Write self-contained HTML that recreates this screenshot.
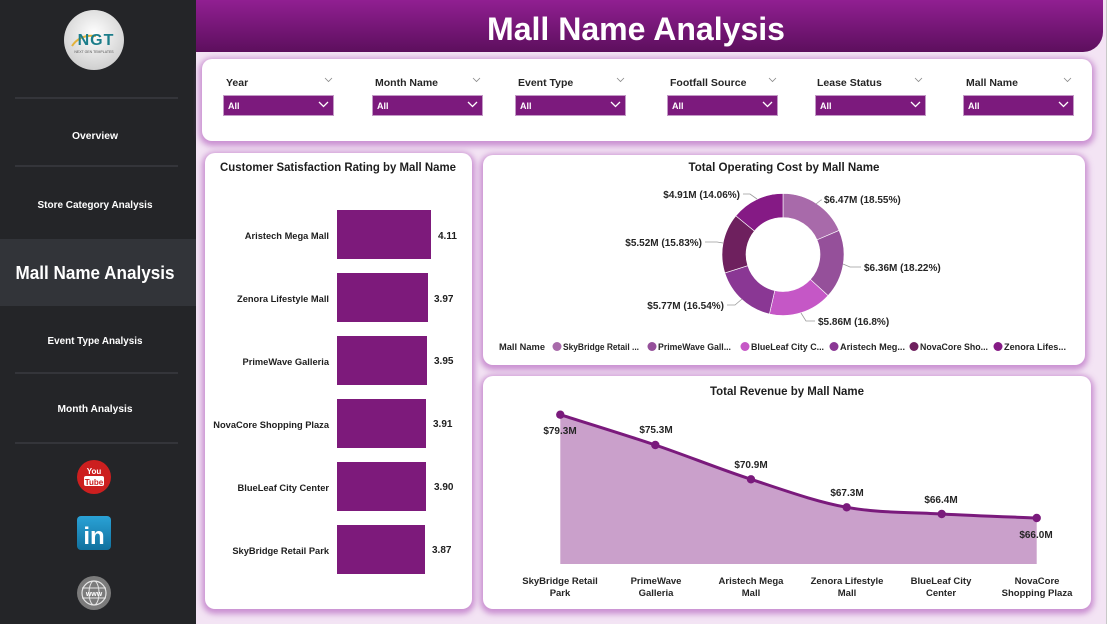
<!DOCTYPE html>
<html><head><meta charset="utf-8">
<style>
html,body{margin:0;padding:0;}
body{width:1113px;height:624px;position:relative;overflow:hidden;background:#f3e4f4;font-family:"Liberation Sans",sans-serif;}
.side{position:absolute;left:0;top:0;width:196px;height:624px;background:#242528;}
.active{position:absolute;left:0;top:239px;width:196px;height:67px;background:#323439;}
.hdr{position:absolute;left:196px;top:0;width:907px;height:52px;background:linear-gradient(#911f92,#5d0f5d);border-bottom-right-radius:20px;}
.rstrip{position:absolute;left:1106px;top:0;width:7px;height:624px;background:#fff;border-left:1px solid #c8c8c8;}
.card{position:absolute;background:#fff;border-radius:10px;box-shadow:0 2px 6px 3px rgba(185,110,195,0.7);}
svg{position:absolute;left:0;top:0;}
</style></head><body>
<div class="side"></div>
<div class="active"></div>
<div class="hdr"></div>
<div class="rstrip"></div>
<div class="card" style="left:202px;top:59px;width:890px;height:82px;"></div>
<div class="card" style="left:205px;top:153px;width:267px;height:456px;"></div>
<div class="card" style="left:483px;top:155px;width:602px;height:210px;"></div>
<div class="card" style="left:483px;top:376px;width:608px;height:233px;"></div>

<svg width="1113" height="624" viewBox="0 0 1113 624" font-family="Liberation Sans, sans-serif">
<defs>
<radialGradient id="lg" cx="50%" cy="40%" r="60%"><stop offset="0" stop-color="#ffffff"/><stop offset="1" stop-color="#cfcfcf"/></radialGradient>
<linearGradient id="li" x1="0" y1="0" x2="0" y2="1"><stop offset="0" stop-color="#2aa2d6"/><stop offset="1" stop-color="#11719e"/></linearGradient>
</defs>

<!-- sidebar -->
<circle cx="94" cy="40" r="30" fill="url(#lg)"/>
<path d="M72 46 Q80 34 96 36" stroke="#e2b23a" stroke-width="2" fill="none"/>
<text x="96" y="45" font-size="16" font-weight="bold" fill="#1b7d8a" text-anchor="middle" letter-spacing="1">NGT</text>
<text x="94" y="53" font-size="3.5" fill="#555" text-anchor="middle">NEXT GEN TEMPLATES</text>
<g stroke="#3a3b40" stroke-width="1.5">
<line x1="15" y1="98" x2="178" y2="98"/><line x1="15" y1="166" x2="178" y2="166"/>
<line x1="15" y1="373" x2="178" y2="373"/><line x1="15" y1="443" x2="178" y2="443"/>
</g>
<g fill="#ffffff" font-weight="bold" font-size="10" text-anchor="middle">
<text x="95" y="139" textLength="46" lengthAdjust="spacingAndGlyphs">Overview</text>
<text x="95" y="208" textLength="115" lengthAdjust="spacingAndGlyphs">Store Category Analysis</text>
<text x="95" y="344" textLength="95" lengthAdjust="spacingAndGlyphs">Event Type Analysis</text>
<text x="95" y="412" textLength="75" lengthAdjust="spacingAndGlyphs">Month Analysis</text>
<text x="95" y="279" font-size="18" textLength="159" lengthAdjust="spacingAndGlyphs">Mall Name Analysis</text>
</g>
<circle cx="94" cy="477" r="17" fill="#cc1f1f"/>
<text x="94" y="474" font-size="8" font-weight="bold" fill="#fff" text-anchor="middle">You</text>
<rect x="84" y="476" width="20" height="10" rx="2" fill="#fff"/>
<text x="94" y="485" font-size="8" font-weight="bold" fill="#cc1f1f" text-anchor="middle">Tube</text>
<rect x="77" y="516" width="34" height="34" rx="4" fill="url(#li)"/>
<text x="94" y="544" font-size="24" font-weight="bold" fill="#fff" text-anchor="middle">in</text>
<circle cx="94" cy="593" r="17" fill="#7b7b7b"/>
<circle cx="94" cy="593" r="12" fill="none" stroke="#e6e6e6" stroke-width="1.2"/>
<ellipse cx="94" cy="593" rx="5" ry="12" fill="none" stroke="#e6e6e6" stroke-width="1"/>
<line x1="82" y1="588" x2="106" y2="588" stroke="#e6e6e6"/><line x1="82" y1="598" x2="106" y2="598" stroke="#e6e6e6"/>
<text x="94" y="596" font-size="7" font-weight="bold" fill="#fff" text-anchor="middle">www</text>

<!-- header title -->
<text x="636" y="40" font-size="32" font-weight="bold" fill="#ffffff" text-anchor="middle" textLength="298" lengthAdjust="spacingAndGlyphs">Mall Name Analysis</text>

<!-- filters -->
<g font-size="10.5" font-weight="bold" fill="#252525">
<text x="226" y="86">Year</text>
<text x="375" y="86">Month Name</text>
<text x="518" y="86">Event Type</text>
<text x="670" y="86">Footfall Source</text>
<text x="817" y="86">Lease Status</text>
<text x="966" y="86">Mall Name</text>
</g>
<g fill="none" stroke="#888" stroke-width="0.8">
<path d="M325 78 l3.5 3.5 l3.5 -3.5"/><path d="M473 78 l3.5 3.5 l3.5 -3.5"/><path d="M617 78 l3.5 3.5 l3.5 -3.5"/>
<path d="M769 78 l3.5 3.5 l3.5 -3.5"/><path d="M915 78 l3.5 3.5 l3.5 -3.5"/><path d="M1064 78 l3.5 3.5 l3.5 -3.5"/>
</g>
<g fill="#7c1a7d" stroke="#c39ac6" stroke-width="1">
<rect x="223.5" y="95.5" width="110" height="20"/>
<rect x="372.5" y="95.5" width="110" height="20"/>
<rect x="515.5" y="95.5" width="110" height="20"/>
<rect x="667.5" y="95.5" width="110" height="20"/>
<rect x="815.5" y="95.5" width="110" height="20"/>
<rect x="963.5" y="95.5" width="110" height="20"/>
</g>
<g font-size="9" font-weight="bold" fill="#ffffff">
<text x="228" y="109">All</text><text x="377" y="109">All</text><text x="520" y="109">All</text>
<text x="672" y="109">All</text><text x="820" y="109">All</text><text x="968" y="109">All</text>
</g>
<g fill="none" stroke="#ffffff" stroke-width="1.3">
<path d="M319 102 l4.5 4.5 l4.5 -4.5"/><path d="M468 102 l4.5 4.5 l4.5 -4.5"/><path d="M611 102 l4.5 4.5 l4.5 -4.5"/>
<path d="M763 102 l4.5 4.5 l4.5 -4.5"/><path d="M911 102 l4.5 4.5 l4.5 -4.5"/><path d="M1059 102 l4.5 4.5 l4.5 -4.5"/>
</g>

<!-- bar chart -->
<text x="220" y="171" font-size="12" font-weight="bold" fill="#1e1e1e" textLength="236" lengthAdjust="spacingAndGlyphs">Customer Satisfaction Rating by Mall Name</text>
<g fill="#7d1a7b">
<rect x="337" y="210" width="94" height="49"/>
<rect x="337" y="273" width="91" height="49"/>
<rect x="337" y="336" width="90" height="49"/>
<rect x="337" y="399" width="89" height="49"/>
<rect x="337" y="462" width="89" height="49"/>
<rect x="337" y="525" width="88" height="49"/>
</g>
<g font-size="9.3" font-weight="bold" fill="#1e1e1e" text-anchor="end">
<text x="329" y="239">Aristech Mega Mall</text>
<text x="329" y="302">Zenora Lifestyle Mall</text>
<text x="329" y="365">PrimeWave Galleria</text>
<text x="329" y="428">NovaCore Shopping Plaza</text>
<text x="329" y="491">BlueLeaf City Center</text>
<text x="329" y="554">SkyBridge Retail Park</text>
</g>
<g font-size="10" font-weight="bold" fill="#1e1e1e">
<text x="438" y="239">4.11</text>
<text x="434" y="302">3.97</text>
<text x="434" y="364">3.95</text>
<text x="433" y="427">3.91</text>
<text x="434" y="490">3.90</text>
<text x="432" y="553">3.87</text>
</g>

<!-- donut -->
<text x="784" y="171" font-size="12" font-weight="bold" fill="#1e1e1e" text-anchor="middle" textLength="191" lengthAdjust="spacingAndGlyphs">Total Operating Cost by Mall Name</text>
<g stroke="#ffffff" stroke-width="0.6">
<path fill="#a86aaa" d="M783,193.5 A61,61 0 0 1 839.06,230.45 L817,239.91 A37,37 0 0 0 783,217.5 Z"/>
<path fill="#95509a" d="M839.06,230.45 A61,61 0 0 1 828.07,295.6 L810.34,279.43 A37,37 0 0 0 817,239.91 Z"/>
<path fill="#c557c6" d="M828.07,295.6 A61,61 0 0 1 769.43,313.98 L774.77,290.58 A37,37 0 0 0 810.34,279.43 Z"/>
<path fill="#8a3794" d="M769.43,313.98 A61,61 0 0 1 724.86,272.95 L747.74,265.69 A37,37 0 0 0 774.77,290.58 Z"/>
<path fill="#6e205e" d="M724.86,272.95 A61,61 0 0 1 735.85,215.8 L754.4,231.03 A37,37 0 0 0 747.74,265.69 Z"/>
<path fill="#851a85" d="M735.85,215.8 A61,61 0 0 1 783,193.5 L783,217.5 A37,37 0 0 0 754.4,231.03 Z"/>
</g>
<g fill="none" stroke="#9a9a9a" stroke-width="0.8">
<path d="M816 204 L821 200 L822 200"/>
<path d="M843 264 L850 267 L861 267"/>
<path d="M801 313 L806 321 L815 321"/>
<path d="M742 299 L735 305 L727 305"/>
<path d="M723 243 L717 242 L705 242"/>
<path d="M757 199 L750 194 L743 194"/>
</g>
<g font-size="10" font-weight="bold" fill="#252525">
<text x="824" y="203">$6.47M (18.55%)</text>
<text x="864" y="271">$6.36M (18.22%)</text>
<text x="818" y="325">$5.86M (16.8%)</text>
<text x="724" y="309" text-anchor="end">$5.77M (16.54%)</text>
<text x="702" y="246" text-anchor="end">$5.52M (15.83%)</text>
<text x="740" y="198" text-anchor="end">$4.91M (14.06%)</text>
</g>
<g font-size="9.5" font-weight="bold" fill="#252525">
<text x="499" y="350" textLength="46" lengthAdjust="spacingAndGlyphs">Mall Name</text>
<circle cx="557" cy="346.5" r="4.5" fill="#a86aaa"/><text x="563" y="350" textLength="76" lengthAdjust="spacingAndGlyphs">SkyBridge Retail ...</text>
<circle cx="652" cy="346.5" r="4.5" fill="#95509a"/><text x="658" y="350" textLength="73" lengthAdjust="spacingAndGlyphs">PrimeWave Gall...</text>
<circle cx="745" cy="346.5" r="4.5" fill="#c557c6"/><text x="751" y="350" textLength="73" lengthAdjust="spacingAndGlyphs">BlueLeaf City C...</text>
<circle cx="834" cy="346.5" r="4.5" fill="#8a3794"/><text x="840" y="350" textLength="65" lengthAdjust="spacingAndGlyphs">Aristech Meg...</text>
<circle cx="914" cy="346.5" r="4.5" fill="#6e205e"/><text x="920" y="350" textLength="68" lengthAdjust="spacingAndGlyphs">NovaCore Sho...</text>
<circle cx="998" cy="346.5" r="4.5" fill="#851a85"/><text x="1004" y="350" textLength="62" lengthAdjust="spacingAndGlyphs">Zenora Lifes...</text>
</g>

<!-- revenue area -->
<text x="787" y="395" font-size="12" font-weight="bold" fill="#1e1e1e" text-anchor="middle" textLength="154" lengthAdjust="spacingAndGlyphs">Total Revenue by Mall Name</text>
<path fill="#caa0cb" d="M560.3,414.7 C576.1,419.75 623.5,434.2 655.3,445 C687.1,455.8 719.1,468.9 751,479.3 C782.9,489.7 814.9,501.5 846.7,507.3 C878.5,513.1 910,512.2 941.7,514 C973.4,515.8 1020.9,517.3 1036.7,518 L1036.7,564 L560.3,564 Z"/>
<path fill="none" stroke="#7a1a7c" stroke-width="3" d="M560.3,414.7 C576.1,419.75 623.5,434.2 655.3,445 C687.1,455.8 719.1,468.9 751,479.3 C782.9,489.7 814.9,501.5 846.7,507.3 C878.5,513.1 910,512.2 941.7,514 C973.4,515.8 1020.9,517.3 1036.7,518"/>
<g fill="#7a1a7c">
<circle cx="560.3" cy="414.7" r="4.2"/><circle cx="655.3" cy="445" r="4.2"/><circle cx="751" cy="479.3" r="4.2"/>
<circle cx="846.7" cy="507.3" r="4.2"/><circle cx="941.7" cy="514" r="4.2"/><circle cx="1036.7" cy="518" r="4.2"/>
</g>
<g font-size="10" font-weight="bold" fill="#252525" text-anchor="middle">
<text x="560" y="434">$79.3M</text>
<text x="656" y="433">$75.3M</text>
<text x="751" y="468">$70.9M</text>
<text x="847" y="496">$67.3M</text>
<text x="941" y="503">$66.4M</text>
<text x="1036" y="538">$66.0M</text>
</g>
<g font-size="9.5" font-weight="bold" fill="#252525" text-anchor="middle">
<text x="560" y="584">SkyBridge Retail</text><text x="560" y="596">Park</text>
<text x="656" y="584">PrimeWave</text><text x="656" y="596">Galleria</text>
<text x="751" y="584">Aristech Mega</text><text x="751" y="596">Mall</text>
<text x="847" y="584">Zenora Lifestyle</text><text x="847" y="596">Mall</text>
<text x="941" y="584">BlueLeaf City</text><text x="941" y="596">Center</text>
<text x="1037" y="584">NovaCore</text><text x="1037" y="596">Shopping Plaza</text>
</g>
</svg>
</body></html>
